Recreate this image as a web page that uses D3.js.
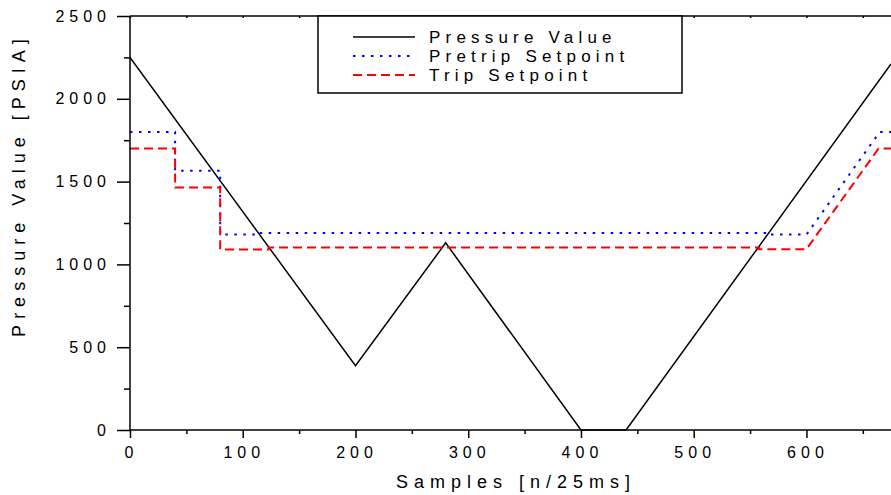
<!DOCTYPE html>
<html>
<head>
<meta charset="utf-8">
<script src="https://cdn.jsdelivr.net/npm/d3@7"></script>
<style>
  body { margin: 0; background: #fff; }
  text { font-family: "Liberation Sans", Arial, sans-serif; fill: #000; }
</style>
</head>
<body>
<svg id="chart" width="891" height="495"></svg>
<script>
// chart data
const pressureX = [0, 200, 280, 400, 440, 675];
const pressureY = [2250, 388, 1130, 0, 0, 2210];

const pretripX = [0, 40, 40, 80, 80, 114, 114, 567, 567, 600, 665, 675];
const pretripY = [1800, 1800, 1565, 1565, 1180, 1180, 1190, 1190, 1180, 1180, 1800, 1800];

const tripX = [0, 40, 40, 80, 80, 123, 123, 558, 558, 600, 664, 675];
const tripY = [1700, 1700, 1465, 1465, 1090, 1090, 1102, 1102, 1092, 1092, 1700, 1700];

const xTicks = [0, 100, 200, 300, 400, 500, 600];
const xMinor = [50, 150, 250, 350, 450, 550, 650];
const yTicks = [0, 500, 1000, 1500, 2000, 2500];
const yMinor = [250, 750, 1250, 1750, 2250];

const legendNames = ["Pressure Value", "Pretrip Setpoint", "Trip Setpoint"];

const svg = d3.select("#chart");
const x = d3.scaleLinear().domain([0, 675]).range([130, 891]);
const y = d3.scaleLinear().domain([0, 2500]).range([430, 16]);

const styles = [
    { color: "#000", width: 1.5, dash: null },
    { color: "#0000ff", width: 2, dash: "2.5,6.5" },
    { color: "#ff0000", width: 2, dash: "9,5" }
];

svg.append("clipPath").attr("id", "plotClip")
    .append("rect").attr("x", 130).attr("y", 10).attr("width", 761).attr("height", 425);

// series
const line = d3.line().x(d => x(d[0])).y(d => y(d[1]));
const series = [
    d3.zip(pressureX, pressureY),
    d3.zip(pretripX, pretripY),
    d3.zip(tripX, tripY)
];
const plot = svg.append("g").attr("clip-path", "url(#plotClip)");
series.forEach((pts, i) => {
    plot.append("path")
        .attr("d", line(pts))
        .attr("fill", "none")
        .attr("stroke", styles[i].color)
        .attr("stroke-width", styles[i].width)
        .attr("stroke-dasharray", styles[i].dash);
});

// axes
function styleAxis(g) {
    g.select(".domain").remove();
    g.selectAll("line").attr("stroke", "#000").attr("stroke-width", 1.5);
    g.selectAll("text")
        .style("font-size", "16px")
        .style("letter-spacing", "5px");
}

svg.append("g")
    .attr("transform", "translate(130,0)")
    .call(d3.axisLeft(y).tickValues(yTicks).tickSize(13).tickPadding(6).tickFormat(d3.format("d")))
    .call(styleAxis);
svg.append("g")
    .attr("transform", "translate(130,0)")
    .call(d3.axisLeft(y).tickValues(yMinor).tickSize(6).tickFormat(""))
    .call(styleAxis);

svg.append("g")
    .attr("transform", "translate(0,430)")
    .call(d3.axisBottom(x).tickValues(xTicks).tickSize(8).tickPadding(9))
    .call(styleAxis)
    .selectAll("text").attr("dx", "1px");
svg.append("g")
    .attr("transform", "translate(0,430)")
    .call(d3.axisBottom(x).tickValues(xMinor).tickSize(4).tickFormat(""))
    .call(styleAxis);

// top frame ticks (small, inward)
svg.append("g")
    .attr("transform", "translate(0,16)")
    .call(d3.axisBottom(x).tickValues(xTicks.concat(xMinor)).tickSize(2).tickFormat(""))
    .call(styleAxis);

// frame lines
svg.append("line").attr("x1", 130).attr("x2", 130).attr("y1", 16).attr("y2", 430)
    .attr("stroke", "#000").attr("stroke-width", 1.5);
svg.append("line").attr("x1", 130).attr("x2", 891).attr("y1", 430).attr("y2", 430)
    .attr("stroke", "#000").attr("stroke-width", 1.5);
svg.append("line").attr("x1", 130).attr("x2", 891).attr("y1", 16).attr("y2", 16)
    .attr("stroke", "#000").attr("stroke-width", 1.5);

// axis titles
svg.append("text")
    .attr("x", 516).attr("y", 488)
    .attr("text-anchor", "middle")
    .style("font-size", "18px").style("letter-spacing", "6px")
    .text("Samples [n/25ms]");
svg.append("text")
    .attr("transform", "translate(25,185) rotate(-90)")
    .attr("text-anchor", "middle")
    .style("font-size", "18px").style("letter-spacing", "6px")
    .text("Pressure Value [PSIA]");

// legend
const legend = svg.append("g");
legend.append("rect")
    .attr("x", 318).attr("y", 16).attr("width", 364).attr("height", 77)
    .attr("fill", "#fff").attr("stroke", "#000").attr("stroke-width", 1.5);
legendNames.forEach((name, i) => {
    const ly = 37 + i * 19;
    legend.append("line")
        .attr("x1", 353).attr("x2", 415).attr("y1", ly).attr("y2", ly)
        .attr("stroke", styles[i].color)
        .attr("stroke-width", styles[i].width)
        .attr("stroke-dasharray", styles[i].dash);
    legend.append("text")
        .attr("x", 429).attr("y", ly + 6)
        .style("font-size", "17px").style("letter-spacing", "5.2px")
        .text(name);
});
</script>
</body>
</html>
